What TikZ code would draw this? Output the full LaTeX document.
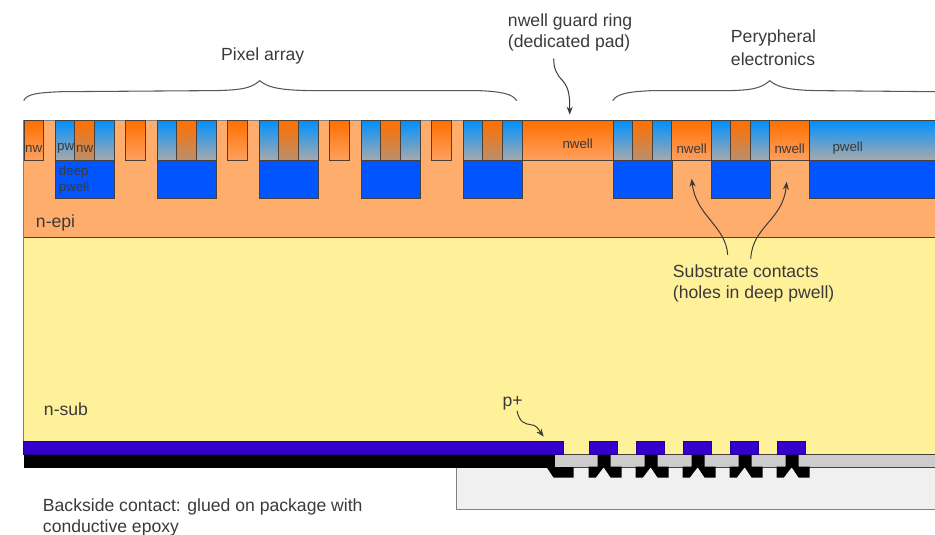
\documentclass[tikz,border=0pt]{standalone}
\usepackage{fontspec}
\setmainfont{Liberation Sans}
\usetikzlibrary{arrows.meta}
\definecolor{epi}{HTML}{FFAD6D}
\definecolor{sub}{HTML}{FFF09A}
\definecolor{deep}{HTML}{0055FF}
\definecolor{nwtop}{HTML}{FF7000}
\definecolor{nwbot}{HTML}{FFA060}
\definecolor{nwmid}{HTML}{B89070}
\definecolor{pwtop}{HTML}{0090FF}
\definecolor{pwbot}{HTML}{AAAAAA}
\definecolor{edgec}{HTML}{4A4038}
\definecolor{padc}{HTML}{3300CC}
\definecolor{pkg}{HTML}{F0F0F0}
\definecolor{lay}{HTML}{CCCCCC}
\definecolor{txt}{HTML}{3A3A3A}
\tikzset{
  well/.style={draw=edgec,line width=.7pt},
  nwbox/.style={well,top color=nwtop,bottom color=nwbot},
  nwpix/.style={well,top color=nwtop,bottom color=nwmid},
  pwbox/.style={well,top color=pwtop,bottom color=pwbot},
  deepbox/.style={well,fill=deep},
  lab/.style={text=txt,font=\fontsize{13.2pt}{15.75pt}\selectfont,align=left,inner sep=0pt},
  smalllab/.style={text=txt,font=\fontsize{10pt}{12pt}\selectfont,align=left,inner sep=0pt},
  callout/.style={draw=txt,line width=.75pt,-{Stealth[length=6pt,width=4.5pt]}},
  bracec/.style={draw=txt!85,line width=.8pt},
}
\newcommand{\pixelcell}[1]{%
  \path[pwbox] (#1,120) rectangle ++(19,40);
  \path[nwpix] (#1+19,120) rectangle ++(20,40);
  \path[pwbox] (#1+39,120) rectangle ++(20,40);
  \path[deepbox] (#1,160) rectangle ++(59,38);
}
\newcommand{\bump}[1]{%
  \fill[black] (#1-1,466) -- (#1-1,477) -- (#1+6,477) -- (#1+14,466.5) -- (#1+21,477) -- (#1+32,477) -- (#1+32,466) -- (#1+21,466) -- (#1+21,454) -- (#1+8,454) -- (#1+8,466) -- cycle;
  \path[well,draw=padc!70!black,fill=padc] (#1,441) rectangle ++(27.5,13);
}
\begin{document}
\begin{tikzpicture}[x=.75pt,y=-.75pt]
\useasboundingbox (-0.7,-0.7) rectangle (934.3,534.3);
% package
\path[draw=gray,fill=pkg,line width=.9pt] (456,467) -- (456,509) -- (936,509) -- (936,467);
% substrate
\path[fill=sub] (23,237) rectangle (936,454);
\path[fill=epi] (23,120) rectangle (936,237);
\draw[edgec,line width=.7pt] (23,237) -- (936,237);
\draw[gray,line width=.9pt] (936,120) -- (23,120) -- (23,441);
% interconnect layer
\path[draw=edgec,line width=.5pt,fill=lay] (554,454) rectangle (937,467);
\fill[black] (23,454) rectangle (554,467);
\fill[black] (546,466.5) -- (553,477) -- (573,477) -- (573,466.5) -- cycle;
\path[well,draw=padc!70!black,fill=padc] (23,441) rectangle (563,454);
\foreach \x in {589,636,683,730,777} {\bump{\x}}
% wells
\path[nwbox] (24,120) rectangle (43,160);
\foreach \x in {125,227,329,431} {\path[nwbox] (\x,120) rectangle ++(20,40);}
\foreach \x in {55,157,259,361,463,613,711} {\pixelcell{\x}}
\path[nwbox] (522,120) rectangle (613,160);
\path[nwbox] (671,120) rectangle (711,160);
\path[nwbox] (769,120) rectangle (809,160);
\path[pwbox] (809,120) rectangle (937,160);
\path[deepbox] (809,160) rectangle (937,198);
% labels
\node[smalllab] (nwa) at (33,148) {nw};
\node[smalllab] (pwa) at (65,148) {pw};
\node[smalllab] (nwb) at (84,148) {nw};
\node[smalllab,anchor=north west] (dp) at (58,165) {deep\\pwell};
\node[smalllab] (nw1) at (577,143) {nwell};
\node[smalllab] (nw2) at (691,148) {nwell};
\node[smalllab] (nw3) at (789,148) {nwell};
\node[smalllab] (pw1) at (847,147) {pwell};
\node[lab,anchor=west] (epilab) at (35,222) {n-epi};
\node[lab,anchor=west] (sublab) at (43,409) {n-sub};
\node[lab] (pix) at (262,55) {Pixel array};
\node[lab,anchor=west] (guard) at (507,32) {nwell guard ring\\(dedicated pad)};
\node[lab,anchor=west,font=\fontsize{13.2pt}{17pt}\selectfont] (peri) at (730,47) {Perypheral\\electronics};
\node[lab,anchor=west] (cont) at (672,283) {Substrate contacts\\(holes in deep pwell)};
\node[lab] (pplus) at (512,403) {p+};
\node[lab,anchor=west] (back) at (42,517) {Backside contact: glued on package with\\conductive epoxy};
% braces
\draw[bracec] (23,100) .. controls (26,93) and (38,92) .. (60,91) -- (200,90) .. controls (240,90) and (250,88) .. (259,80) .. controls (268,88) and (285,90) .. (320,90) -- (480,90) .. controls (500,91) and (512,93) .. (516,100);
\draw[bracec] (612,100) .. controls (616,93) and (628,91) .. (650,90) -- (720,90) .. controls (750,90) and (760,88) .. (769,80) .. controls (778,88) and (795,90) .. (825,90) -- (936,91);
% callouts
\coordinate (guardtip) at (569,114);
\coordinate (guardmid) at (562,80);
\coordinate (nhole1) at (691,178);
\coordinate (nhole2) at (786,181);
\coordinate (ptip) at (543,436);
\coordinate (pmid) at (530,424);
\draw[callout] ([shift={(46,7)}]guard.south west) .. controls (553,68) and (556,74) .. (guardmid) .. controls (569,88) and (569,98) .. (guardtip);
\draw[callout] ([shift={(55,-10)}]cont.north west) .. controls (725,225) and (695,215) .. (nhole1);
\draw[callout] ([shift={(78,-6)}]cont.north west) .. controls (752,225) and (782,220) .. (nhole2);
\draw[callout] ([shift={(-6,0)}]pplus.south east) .. controls (519,422) and (524,423) .. (pmid) .. controls (537,425) and (537,428) .. (ptip);
\end{tikzpicture}
\end{document}
